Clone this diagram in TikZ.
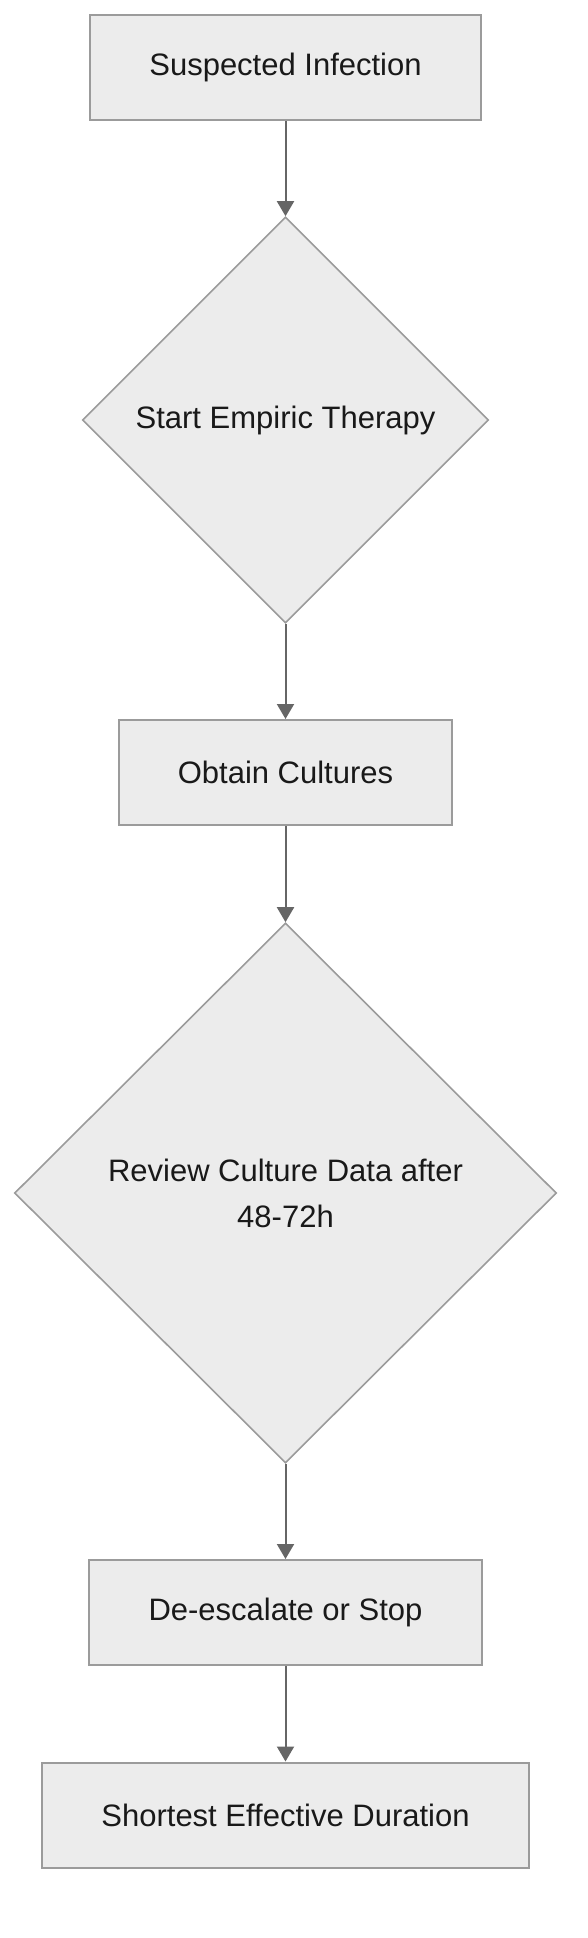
\documentclass[tikz,border=0pt]{standalone}
\usepackage{fontspec}
\setmainfont{Liberation Sans}
\usetikzlibrary{shapes.geometric, arrows.meta, positioning}

\definecolor{nodefill}{HTML}{ECECEC}
\definecolor{nodeline}{HTML}{9B9B9B}
\definecolor{edgeline}{HTML}{666666}

\begin{document}
\begin{tikzpicture}[
            x=0.5pt, y=-0.5pt,
            procbox/.style={rectangle, draw=nodeline, fill=nodefill, line width=1pt, inner sep=0pt,
                            minimum height=52.5pt, font=\fontsize{15.5}{23}\selectfont, text=black!90},
            decision/.style={diamond, aspect=1, draw=nodeline, fill=nodefill, line width=0.8pt, inner sep=0pt,
                             align=center, font=\fontsize{15.5}{23}\selectfont, text=black!90},
            flow/.style={-{Triangle[length=7.5pt, width=8.5pt]}, draw=edgeline, line width=1pt}
        ]
            \useasboundingbox (0,0) rectangle (588,1938);

            % Steps
            \node[procbox, minimum width=195.5pt] (infect) at (285.5, 67.5) {Suspected Infection};
            \node[decision, minimum width=203pt, minimum height=203pt] (empiric) at (285.5, 420) {Start Empiric Therapy};
            \node[procbox, minimum width=166.5pt] (cultures) at (285.5, 772.5) {Obtain Cultures};
            \node[decision, minimum width=271pt, minimum height=270pt] (review) at (285.5, 1193) {Review Culture Data after\\48-72h};
            \node[procbox, minimum width=196.5pt] (deesc) at (285.5, 1612.5) {De-escalate or Stop};
            \node[procbox, minimum width=243.5pt] (duration) at (285.5, 1815) {Shortest Effective Duration};

            % Connectors
            \draw[flow] (infect) -- (empiric);
            \draw[flow] (empiric) -- (cultures);
            \draw[flow] (cultures) -- (review);
            \draw[flow] (review) -- (deesc);
            \draw[flow] (deesc) -- (duration);
        \end{tikzpicture}
\end{document}
